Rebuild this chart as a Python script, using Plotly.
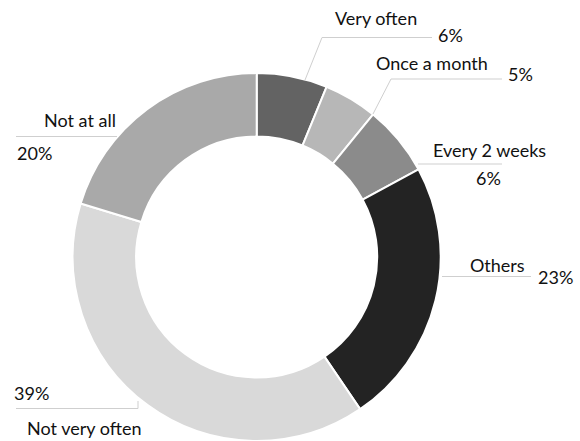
import plotly.graph_objects as go

# ---- data ----
categories = ["Very often", "Once a month", "Every 2 weeks", "Others", "Not very often", "Not at all"]
values = [6.2, 4.7, 6.2, 23.4, 39.2, 20.3]
colors = ["#636363", "#b7b7b7", "#8b8b8b", "#232323", "#d9d9d9", "#a9a9a9"]

W, H = 580, 441
total = sum(values)
pct_labels = [f"{round(v / total * 100):.0f}%" for v in values]

# ---- label layout (pixel positions, top-left origin) ----
name_pos = [(376, 18), (432, 63), (489, 150), (497, 265), (84, 428), (80, 120)]
pct_pos = [(450, 35), (520, 74), (488, 178), (555, 277), (31, 393), (34, 153)]
leader_paths = [
    [(305, 80), (322, 37.5), (432, 37.5)],
    [(373, 114), (391, 79), (502, 79)],
    [(418, 164), (502, 164)],
    [(442, 276.5), (531, 276.5)],
    [(138, 401), (138, 408.5), (16, 408.5)],
    [(117, 136.5), (16, 136.5)],
]


def px(x):
    return x / W


def py(y):
    return 1 - y / H


fig = go.Figure(
    go.Pie(
        labels=categories,
        values=values,
        hole=0.655,
        sort=False,
        direction="clockwise",
        rotation=0,
        marker=dict(colors=colors, line=dict(color="#ffffff", width=2)),
        textinfo="none",
        hoverinfo="label+percent",
        showlegend=False,
        domain=dict(x=[0, 513.4 / W], y=[0, (H - 73) / H]),
    )
)

font = dict(family="Lato, 'Noto Sans', sans-serif", size=18, color="#111111")
annotations = []
for i in range(len(categories)):
    annotations.append(dict(x=px(name_pos[i][0]), y=py(name_pos[i][1]), xref="paper", yref="paper",
                            text=categories[i], showarrow=False, xanchor="center", yanchor="middle", font=font))
    annotations.append(dict(x=px(pct_pos[i][0]), y=py(pct_pos[i][1]), xref="paper", yref="paper",
                            text=pct_labels[i], showarrow=False, xanchor="center", yanchor="middle", font=font))

shapes = []
for path in leader_paths:
    d = "M " + " L ".join(f"{px(x)},{py(y)}" for x, y in path)
    shapes.append(dict(type="path", path=d, xref="paper", yref="paper",
                       line=dict(color="#cfcfcf", width=1)))

fig.update_layout(
    width=W, height=H,
    margin=dict(l=0, r=0, t=0, b=0),
    paper_bgcolor="#ffffff",
    plot_bgcolor="#ffffff",
    annotations=annotations,
    shapes=shapes,
)

fig.write_html(
    "out.html",
    config={"displayModeBar": False},
    post_script="document.body.style.margin='0';document.body.style.overflow='hidden';",
)
